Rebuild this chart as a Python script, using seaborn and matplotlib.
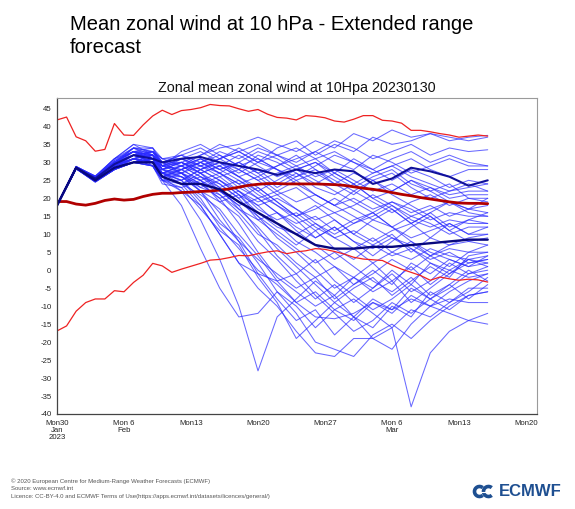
import numpy as np
import pandas as pd
import matplotlib
matplotlib.use("Agg")
import matplotlib.pyplot as plt
import seaborn as sns
from matplotlib.patches import Arc

# ---------------- data ----------------
start = pd.Timestamp("2023-01-30")
member_days = [0, 2, 4, 6, 8, 10, 11, 13, 15, 17, 19, 21, 23, 25, 27, 29, 31, 33, 35, 37, 39, 41, 43, 45]

members = {
    "A1": [18, 28.5, 25.5, 30, 33, 34, 29, 30, 32, 34, 35, 37, 35, 33, 36, 34, 38, 36, 39, 37, 38, 36, 37, 37.5],
    "A2": [18, 28.8, 26, 31, 35, 32, 28, 31, 29, 31, 33, 30, 34, 36, 32, 35, 33, 37, 35, 36, 38, 37, 36, 37],
    "A3": [18, 28.2, 25, 29, 32, 33, 30, 27, 30, 33, 31, 34, 32, 30, 33, 36, 34, 31, 33, 35, 32, 34, 33, 33.5],
    "A4": [18, 28.5, 24.8, 28, 31, 30, 27, 29, 31, 28, 30, 27, 29, 31, 33, 30, 28, 32, 30, 27, 29, 31, 29, 29],
    "A5": [18, 28.6, 25.8, 30, 34, 31, 26, 28, 30, 32, 29, 31, 28, 26, 29, 32, 30, 27, 29, 31, 28, 26, 28, 28],
    "A6": [18, 28.4, 25.2, 29, 33, 32, 28, 30, 27, 29, 32, 29, 26, 28, 30, 27, 24, 27, 29, 26, 24, 22, 23, 24],
    "A7": [18, 28.7, 26.2, 30, 32, 30, 29, 31, 33, 30, 27, 30, 28, 25, 27, 24, 27, 25, 22, 25, 23, 21, 22, 22],
    "A8": [18, 28.3, 24.5, 28, 30, 31, 27, 25, 28, 30, 28, 25, 27, 29, 26, 28, 25, 22, 24, 21, 23, 20, 21, 21],
    "A9": [18, 28.5, 25.5, 29, 31, 33, 30, 32, 29, 27, 30, 33, 31, 28, 30, 26, 23, 26, 28, 24, 22, 24, 20, 20],
    "A10": [18, 28.9, 26, 31, 34, 33, 31, 29, 32, 35, 33, 30, 32, 34, 31, 33, 30, 28, 31, 33, 30, 32, 30, 29],
    "B1": [18, 28.4, 25, 29, 31, 30, 26, 28, 30, 27, 24, 26, 22, 19, 21, 18, 20, 17, 19, 16, 18, 15, 17, 16],
    "B2": [18, 28.6, 25.6, 30, 33, 29, 25, 27, 24, 26, 28, 25, 21, 23, 19, 16, 18, 21, 18, 15, 17, 19, 16, 15],
    "B3": [18, 28.2, 24.6, 28, 30, 32, 28, 26, 23, 25, 22, 19, 21, 17, 14, 16, 13, 15, 18, 14, 12, 14, 13, 13],
    "B4": [18, 28.5, 25.4, 29, 32, 31, 27, 29, 26, 23, 25, 21, 18, 15, 17, 20, 17, 14, 12, 15, 13, 10, 12, 12],
    "B5": [18, 28.7, 26, 30, 34, 32, 27, 24, 26, 22, 18, 20, 16, 13, 15, 11, 14, 16, 12, 9, 11, 13, 10, 10],
    "B6": [18, 28.3, 24.8, 28, 31, 30, 26, 27, 24, 20, 22, 17, 14, 16, 12, 9, 11, 8, 11, 13, 9, 7, 8, 7],
    "B7": [18, 28.5, 25.2, 29, 30, 29, 25, 23, 25, 21, 17, 14, 16, 12, 9, 12, 8, 6, 9, 7, 4, 6, 5, 5],
    "B8": [18, 28.8, 26.2, 31, 33, 31, 28, 26, 22, 19, 21, 16, 12, 10, 13, 9, 6, 9, 5, 3, 6, 4, 3, 4],
    "B9": [18, 28.4, 25, 29, 31, 33, 29, 30, 27, 24, 20, 23, 19, 15, 11, 14, 10, 7, 4, 6, 3, 5, 2, 3],
    "B10": [18, 28.6, 25.7, 30, 32, 30, 27, 25, 28, 25, 21, 18, 20, 17, 13, 10, 13, 16, 12, 8, 5, 3, 1, 2],
    "B11": [18, 28.3, 24.7, 28, 30, 31, 26, 28, 25, 27, 23, 20, 22, 25, 21, 18, 22, 19, 16, 19, 21, 18, 20, 19],
    "B12": [18, 28.5, 25.3, 29, 32, 32, 29, 31, 28, 30, 26, 28, 24, 27, 23, 21, 24, 20, 22, 25, 22, 19, 17, 18],
    "B13": [18, 28.7, 25.9, 30, 33, 30, 27, 29, 31, 28, 30, 27, 23, 26, 28, 24, 21, 25, 27, 23, 20, 22, 24, 22],
    "B14": [18, 28.2, 24.5, 28, 30, 29, 26, 24, 27, 29, 26, 22, 25, 28, 25, 22, 19, 16, 19, 17, 14, 16, 15, 15],
    "B15": [18, 28.6, 25.5, 29.5, 31, 32, 30, 27, 29, 31, 28, 32, 30, 27, 24, 27, 31, 28, 25, 28, 26, 23, 25, 24],
    "C1": [18, 28.5, 25.2, 29, 31, 30, 25, 18, 6, -5, -13, -12, -6, -10, -16, -11, -14, -9, -12, -7, -10, -12, -14, -15],
    "C2": [18, 28.3, 24.8, 28.5, 30, 31, 26, 22, 14, 3, -10, -28, -13, -8, -3, -7, -2, -5, 0, -4, 2, -1, 3, 1],
    "C3": [18, 28.7, 25.6, 30, 33, 32, 27, 25, 20, 12, 6, 0, -4, -9, -6, -11, -8, -12, -16, -38, -23, -17, -14, -12],
    "C4": [18, 28.4, 24.9, 29, 32, 31, 26, 24, 18, 10, 2, -5, -10, -17, -23, -24, -19, -19, -22, -15, -10, -6, -3, -1],
    "C5": [18, 28.6, 25.8, 30.5, 34, 33, 28, 27, 22, 16, 8, -1, -8, -14, -11, -18, -13, -8, -11, -5, -8, -4, 0, -3],
    "C6": [18, 28.2, 24.6, 28, 30, 30, 27, 26, 24, 20, 13, 5, -2, -6, -10, -7, -13, -16, -10, -13, -6, -9, -5, -5],
    "C7": [18, 28.5, 25.4, 29.5, 32, 32, 29, 28, 25, 19, 15, 8, 3, -3, -8, -4, -9, -5, -1, -6, -3, 2, -1, 0],
    "C8": [18, 28.8, 26.1, 31, 35, 34, 30, 29, 27, 23, 17, 12, 6, 1, -4, -9, -5, -2, -7, -3, 1, -2, 4, 5],
    "C9": [18, 28.4, 25.0, 28.5, 31, 29, 25, 24, 21, 17, 10, 4, -3, -1, -7, -12, -17, -14, -9, -12, -8, -11, -7, -6],
    "C10": [18, 28.6, 25.7, 30, 33, 33, 29, 27, 23, 21, 16, 10, 7, 2, -2, 1, -4, -1, 3, 0, 4, 1, 5, 7],
    "C11": [18, 28.3, 24.7, 28, 30, 32, 30, 30, 28, 25, 21, 15, 9, 5, 0, -5, -2, 2, -3, 1, -4, 0, -2, -1],
    "C12": [18, 28.5, 25.3, 29, 31, 30, 26, 26, 22, 14, 8, 3, -1, -5, -2, -8, -4, 0, -4, 2, -1, 3, 1, 4],
    "C13": [18, 28.7, 26.0, 30.5, 33, 31, 28, 29, 26, 24, 20, 14, 10, 6, 2, 5, 1, -3, -6, -2, -7, -4, -8, -4],
    "C14": [18, 28.4, 25.1, 29, 32, 33, 31, 31, 29, 26, 22, 18, 13, 8, 5, 1, -2, -6, -3, -9, -5, -1, 2, 3],
    "C15": [18, 28.6, 25.5, 29.5, 31, 30, 27, 28, 30, 27, 24, 20, 16, 11, 7, 3, 6, 2, 5, 8, 4, 7, 9, 10],
    "C16": [18, 28.3, 24.8, 28.5, 30, 29, 25, 25, 19, 13, 9, 2, -6, -12, -20, -22, -24, -18, -15, -19, -14, -10, -7, -6],
    "C17": [18, 28.5, 25.6, 30, 33, 32, 28, 30, 27, 22, 18, 11, 4, -1, 3, -3, -7, -11, -8, -4, -8, -5, -1, 1],
    "C18": [18, 28.7, 25.9, 30, 32, 30, 27, 27, 25, 22, 19, 15, 11, 7, 11, 6, 3, 7, 10, 5, 9, 13, 10, 12],
    "C19": [18, 28.4, 25.2, 29.5, 34, 34, 31, 32, 30, 28, 25, 22, 18, 14, 9, 12, 8, 4, 8, 12, 15, 11, 14, 16],
    "C20": [18, 28.6, 25.4, 29, 31, 32, 29, 28, 31, 29, 26, 23, 19, 15, 18, 14, 10, 14, 17, 13, 16, 19, 17, 20],
    "C21": [18, 28.2, 24.9, 28.5, 30, 29, 24, 23, 17, 11, 7, -2, -9, -19, -14, -9, -13, -19, -16, -11, -13, -9, -6, -2],
    "D1": [18, 28.4, 25.1, 29, 32, 33, 30, 32, 34, 31, 33, 35, 32, 29, 31, 27, 24, 20, 17, 13, 16, 12, 14, 13],
    "D2": [18, 28.6, 25.6, 30, 33, 31, 29, 33, 35, 32, 29, 26, 29, 32, 28, 25, 22, 25, 21, 18, 15, 11, 8, 9],
    "D3": [18, 28.5, 25.0, 29, 31, 32, 28, 30, 28, 31, 34, 31, 28, 24, 21, 18, 15, 12, 9, 6, 2, 0, 3, 2],
    "D4": [18, 28.5, 25, 29, 31, 29, 25, 22, 18, 10, 2, -1, -3, -9, -13, -13.5, -12, -9, -11, -8, -10, -8, -9, -9],
}
control = [18, 28.5, 25.5, 29.5, 32, 31, 30, 31, 31.5, 30, 29, 28, 26.5, 28, 27, 28, 27.5, 24, 25.5, 28.5, 27.5, 26, 23.5, 25]
ens_mean = [18, 28.5, 25, 28.5, 30, 30, 26, 24, 24, 22.5, 19, 16, 13, 10, 7, 6, 6, 6.5, 6.5, 7, 7.5, 8, 8.5, 8.5]

clim_days = list(range(46))
clim_max = [41.8, 42.6, 37.1, 36, 33.1, 33.6, 40.8, 37.6, 37.5, 40.4, 42.9, 44.5, 43.3, 44.4, 44.7, 45.2,
            46.1, 45.8, 45.7, 44.9, 44.2, 44.7, 43.4, 42.5, 42.3, 41.8, 43.0, 42.8, 42.4, 41.5, 41.2, 42.0,
            43.0, 43.0, 41.7, 41.5, 40.9, 38.9, 38.9, 38.5, 38.0, 37.6, 37.0, 37.3, 37.6, 37.3]
clim_min = [-16.9, -15.5, -11.4, -9, -8, -8, -5.7, -6, -3.4, -1.4, 1.9, 1.2, -0.6, 0.3, 1.1, 1.9,
            2.8, 3.0, 3.5, 4.1, 4.0, 4.6, 5.1, 5.4, 4.6, 5.1, 5.4, 6.0, 5.8, 5.2, 4.5, 3.6,
            3.1, 2.9, 2.7, 1.4, 0.3, -0.6, -1.5, -2.8, -1.9, -2.4, -2.8, -2.5, -2.7, -3.3]
clim_mean = [19.1, 19.1, 18.4, 18.1, 18.6, 19.4, 19.8, 19.5, 19.7, 20.5, 21.1, 21.4, 21.4, 21.6, 21.7, 21.9,
             22.0, 22.3, 22.6, 23.1, 23.6, 23.9, 24.1, 24.1, 24.0, 24.0, 24.0, 24.0, 23.9, 23.8, 23.6, 23.2,
             22.8, 22.5, 22.1, 21.6, 21.1, 20.7, 20.2, 19.8, 19.4, 19.0, 18.7, 18.6, 18.6, 18.5]

ytick_values = list(range(-40, 50, 5))
xtick_days = [0, 7, 14, 21, 28, 35, 42, 49]
xtick_labels = ["Mon30\nJan\n2023", "Mon 6\nFeb", "Mon13", "Mon20", "Mon27", "Mon 6\nMar", "Mon13", "Mon20"]

title_line1 = "Mean zonal wind at 10 hPa - Extended range"
title_line2 = "forecast"
subtitle = "Zonal mean zonal wind at 10Hpa 20230130"
footer = ["\u00a9 2020 European Centre for Medium-Range Weather Forecasts (ECMWF)",
          "Source: www.ecmwf.int",
          "Licence: CC-BY-4.0 and ECMWF Terms of Use(https://apps.ecmwf.int/datasets/licences/general/)"]

# ---------------- tables ----------------
def day2date(days):
    return [start + pd.Timedelta(days=d) for d in days]

rows = []
for name, vals in members.items():
    for d, v in zip(day2date(member_days), vals):
        rows.append((name, d, v))
df_mem = pd.DataFrame(rows, columns=["member", "date", "wind"])
df_ctrl = pd.DataFrame({"date": day2date(member_days), "wind": control})
df_mean = pd.DataFrame({"date": day2date(member_days), "wind": ens_mean})
df_clim = pd.DataFrame({"date": day2date(clim_days), "max": clim_max, "min": clim_min, "mean": clim_mean})

# ---------------- plot ----------------
sns.set_theme(style="white")
plt.rcParams["font.family"] = ["Liberation Sans", "DejaVu Sans"]

W, H = 575, 509
fig = plt.figure(figsize=(W / 100, H / 100), dpi=100)
fig.patch.set_facecolor("white")
ax = fig.add_axes([57 / W, 1 - 414 / H, 480 / W, (414 - 98) / H])

sns.lineplot(data=df_mem, x="date", y="wind", units="member", estimator=None, ax=ax,
             color="#2a2aff", alpha=0.7, lw=0.75, legend=False, sort=False)
sns.lineplot(data=df_clim, x="date", y="max", ax=ax, color="#ee2222", lw=0.9, legend=False)
sns.lineplot(data=df_clim, x="date", y="min", ax=ax, color="#ee2222", lw=0.9, legend=False)
sns.lineplot(data=df_clim, x="date", y="mean", ax=ax, color="#b00000", lw=2.0, legend=False)
sns.lineplot(data=df_ctrl, x="date", y="wind", ax=ax, color="#10109a", lw=1.5, legend=False)
sns.lineplot(data=df_mean, x="date", y="wind", ax=ax, color="#08087e", lw=1.7, legend=False)

ax.set_xlim(start, start + pd.Timedelta(days=50.15))
ax.set_ylim(-40, 47.9)
ax.set_yticks(ytick_values)
ax.set_yticklabels([str(v) for v in ytick_values])
ax.set_xticks(day2date(xtick_days))
ax.set_xticklabels(xtick_labels)
for lbl in ax.get_xticklabels():
    lbl.set_linespacing(0.95)
ax.set_xlabel("")
ax.set_ylabel("")
ax.tick_params(axis="both", direction="out", length=2.5, width=0.6, color="#444444",
               labelsize=5.6, labelcolor="#222222", pad=1.5)
ax.tick_params(axis="x", pad=2)
for side in ["left", "bottom"]:
    ax.spines[side].set_color("#444444")
    ax.spines[side].set_linewidth(0.9)
for side in ["top", "right"]:
    ax.spines[side].set_color("#9a9a9a")
    ax.spines[side].set_linewidth(0.8)
ax.grid(False)

# titles
fig.text(70 / W, 1 - 30 / H, title_line1, fontsize=14.5, va="baseline", ha="left", color="black")
fig.text(70 / W, 1 - 52.7 / H, title_line2, fontsize=14.5, va="baseline", ha="left", color="black")
fig.text(297 / W, 1 - 92.3 / H, subtitle, fontsize=10.3, va="baseline", ha="center", color="#111111")

# footer
for i, line in enumerate(footer):
    fig.text(11 / W, 1 - (483 + 7.4 * i) / H, line, fontsize=4.3, va="baseline", ha="left", color="#555555")

# logo
logo_col = "#1e4f91"
fig.text(499 / W, 1 - 496.5 / H, "ECMWF", fontsize=12, fontweight="bold", va="baseline", ha="left", color=logo_col)
lax = fig.add_axes([470 / W, 1 - 499 / H, 30 / W, 15 / H])
lax.set_xlim(0, 30)
lax.set_ylim(0, 15)
lax.set_aspect("equal")
lax.axis("off")
for cx in (9.5, 18.5):
    lax.add_patch(Arc((cx, 7.5), 10, 10, theta1=50, theta2=310, lw=2.6, color=logo_col))
lax.plot([7, 21], [7.5, 7.5], color="white", lw=0.8)

fig.savefig("out.png", dpi=100, facecolor="white")
